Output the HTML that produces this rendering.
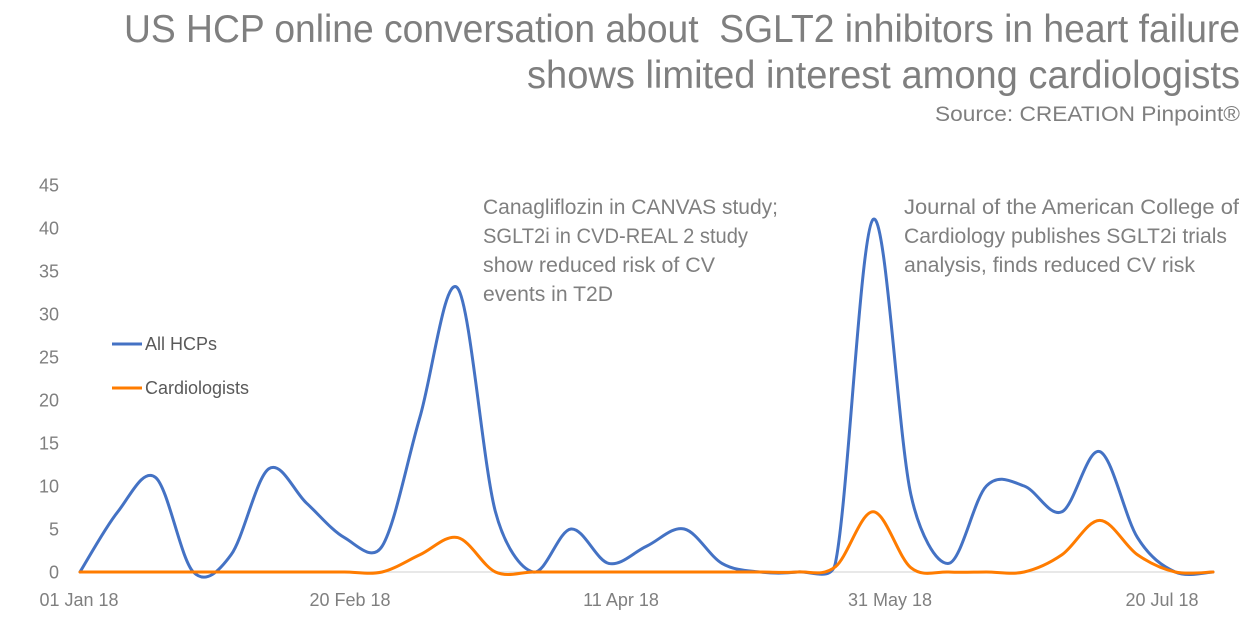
<!DOCTYPE html>
<html>
<head>
<meta charset="utf-8">
<style>
  html,body{margin:0;padding:0;background:#ffffff;}
  svg{display:block;font-family:"Liberation Sans",Arial,sans-serif;}
</style>
</head>
<body>
<svg id="chart" xmlns="http://www.w3.org/2000/svg" width="1256" height="628" viewBox="0 0 1256 628">
  <rect x="0" y="0" width="1256" height="628" fill="#ffffff"/>

  <!-- Title -->
  <text x="124" y="42" font-size="39" fill="#7f7f7f" textLength="1116" lengthAdjust="spacingAndGlyphs" xml:space="preserve">US HCP online conversation about  SGLT2 inhibitors in heart failure</text>
  <text x="527" y="88" font-size="39" fill="#7f7f7f" textLength="713" lengthAdjust="spacingAndGlyphs">shows limited interest among cardiologists</text>
  <text x="935" y="121" font-size="21" fill="#7f7f7f" textLength="305" lengthAdjust="spacingAndGlyphs">Source: CREATION Pinpoint®</text>

  <!-- Y axis labels -->
  <g font-size="18" fill="#7f7f7f" text-anchor="end">
    <text x="59" y="191.5">45</text>
    <text x="59" y="234.5">40</text>
    <text x="59" y="277.5">35</text>
    <text x="59" y="320.5">30</text>
    <text x="59" y="363.5">25</text>
    <text x="59" y="406.5">20</text>
    <text x="59" y="449.5">15</text>
    <text x="59" y="492.5">10</text>
    <text x="59" y="535.5">5</text>
    <text x="59" y="578.5">0</text>
  </g>

  <!-- X axis labels -->
  <g font-size="18" fill="#7f7f7f" text-anchor="middle">
    <text x="79" y="606">01 Jan 18</text>
    <text x="350" y="606">20 Feb 18</text>
    <text x="621" y="606">11 Apr 18</text>
    <text x="890" y="606">31 May 18</text>
    <text x="1162" y="606">20 Jul 18</text>
  </g>

  <!-- Baseline -->
  <line x1="80" y1="572" x2="1213" y2="572" stroke="#d9d9d9" stroke-width="1.2"/>

  <!-- Series -->
  <path id="blue" d="" fill="none" stroke="#4472C4" stroke-width="3" stroke-linejoin="round" stroke-linecap="round"/>
  <path id="orange" d="" fill="none" stroke="#FF7C00" stroke-width="3" stroke-linejoin="round" stroke-linecap="round"/>

  <!-- Legend -->
  <line x1="112" y1="344" x2="142" y2="344" stroke="#4472C4" stroke-width="3"/>
  <text x="145" y="350" font-size="18" fill="#595959">All HCPs</text>
  <line x1="112" y1="388" x2="142" y2="388" stroke="#FF7C00" stroke-width="3"/>
  <text x="145" y="394" font-size="18" fill="#595959">Cardiologists</text>

  <!-- Annotations -->
  <g font-size="21" fill="#7f7f7f">
    <text x="483" y="214" textLength="295" lengthAdjust="spacingAndGlyphs">Canagliflozin in CANVAS study;</text>
    <text x="483" y="243" textLength="265" lengthAdjust="spacingAndGlyphs">SGLT2i in CVD-REAL 2 study</text>
    <text x="483" y="272" textLength="232" lengthAdjust="spacingAndGlyphs">show reduced risk of CV</text>
    <text x="483" y="301" textLength="130" lengthAdjust="spacingAndGlyphs">events in T2D</text>

    <text x="904" y="214" textLength="335" lengthAdjust="spacingAndGlyphs">Journal of the American College of</text>
    <text x="904" y="243" textLength="323" lengthAdjust="spacingAndGlyphs">Cardiology publishes SGLT2i trials</text>
    <text x="904" y="272" textLength="291" lengthAdjust="spacingAndGlyphs">analysis, finds reduced CV risk</text>
  </g>
</svg>

<script>
(function(){
  var blue   = [0,7,11,0,2,12,8,4,3,18,33,7,0,5,1,3,5,1,0,0,1,41,9,1,10,10,7,14,4,0,0];
  var orange = [0,0,0,0,0,0,0,0,0,2,4,0,0,0,0,0,0,0,0,0,0.6,7,0.5,0,0,0,2,6,2,0,0];
  var x0 = 80, x1 = 1213, y0 = 572, k = 8.6;
  function pts(v){
    var n = v.length, step = (x1-x0)/(n-1), out = [];
    for (var i=0;i<n;i++) out.push([x0+i*step, y0 - v[i]*k]);
    return out;
  }
  function dist(a,b){var dx=a[0]-b[0],dy=a[1]-b[1];return Math.sqrt(dx*dx+dy*dy);}
  function tangent(pPrev,pNext,segLen){
    var tx=(pNext[0]-pPrev[0])/6, ty=(pNext[1]-pPrev[1])/6;
    var L=Math.sqrt(tx*tx+ty*ty), cap=segLen/2;
    if (L>cap && L>0){ tx*=cap/L; ty*=cap/L; }
    return [tx,ty];
  }
  function path(p){
    var d = "M"+p[0][0].toFixed(2)+","+p[0][1].toFixed(2);
    for (var i=0;i<p.length-1;i++){
      var p0 = p[i-1]||p[i], p1=p[i], p2=p[i+1], p3=p[i+2]||p[i+1];
      var s = dist(p1,p2);
      var t1 = tangent(p0,p2,s), t2 = tangent(p1,p3,s);
      var c1 = [p1[0]+t1[0], p1[1]+t1[1]];
      var c2 = [p2[0]-t2[0], p2[1]-t2[1]];
      d += " C"+c1[0].toFixed(2)+","+c1[1].toFixed(2)+" "+c2[0].toFixed(2)+","+c2[1].toFixed(2)+" "+p2[0].toFixed(2)+","+p2[1].toFixed(2);
    }
    return d;
  }
  document.getElementById("blue").setAttribute("d", path(pts(blue)));
  document.getElementById("orange").setAttribute("d", path(pts(orange)));
})();
</script>
</body>
</html>
